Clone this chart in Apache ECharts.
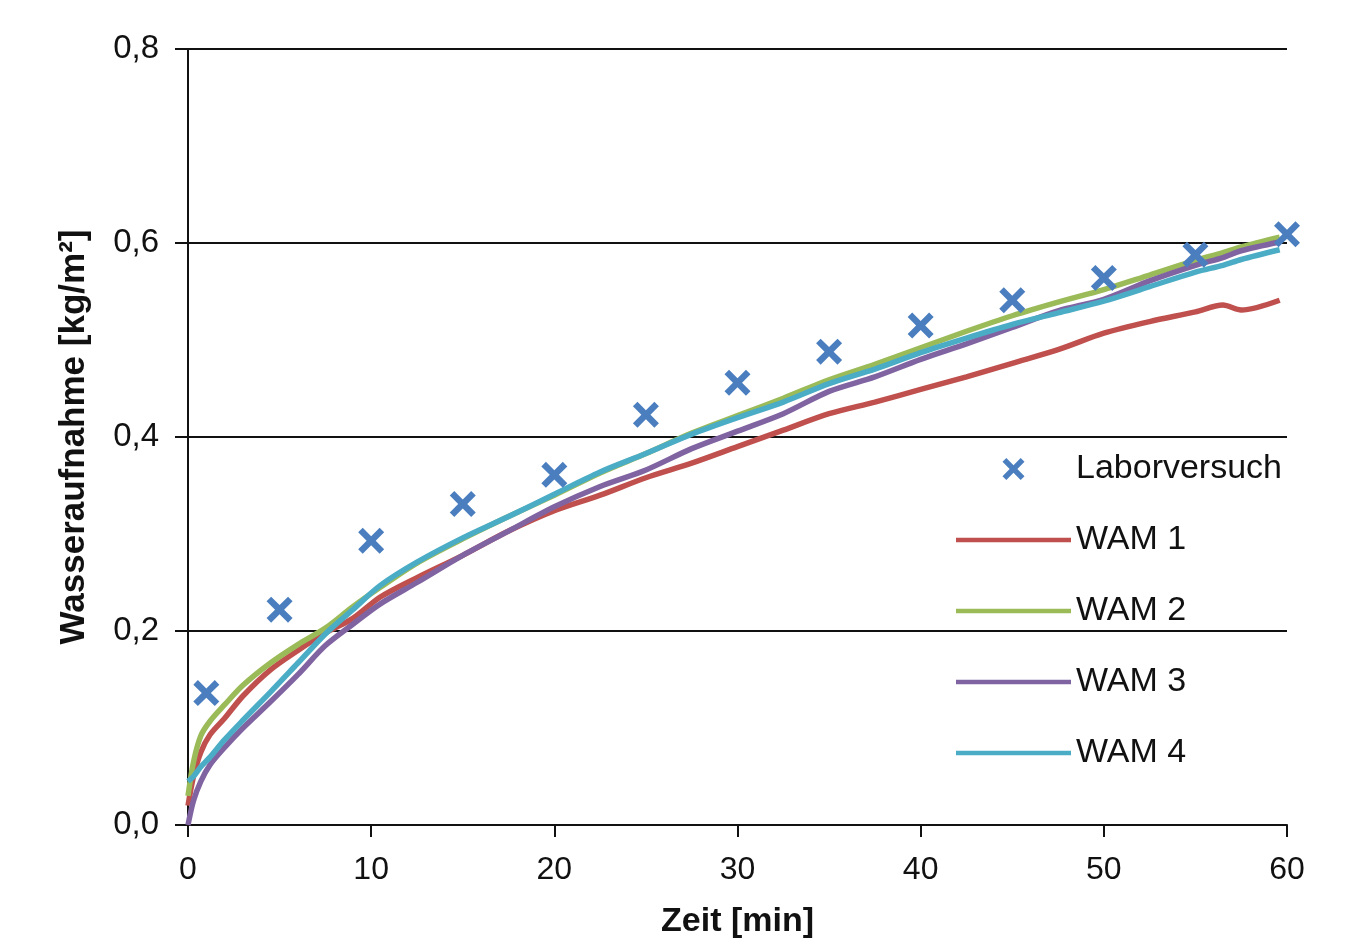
<!DOCTYPE html>
<html>
<head>
<meta charset="utf-8">
<script src="https://cdn.jsdelivr.net/npm/echarts@6/dist/echarts.min.js"></script>
<style>
  html, body { margin: 0; padding: 0; background: #fff; }
  #main { width: 1354px; height: 946px; }
</style>
</head>
<body>
<div id="main"></div>
<script>
// Laborversuch (Messpunkte)
var laborZeit = [1, 5, 10, 15, 20, 25, 30, 35, 40, 45, 50, 55, 60];
var laborWerte = [0.136, 0.222, 0.293, 0.331, 0.361, 0.423, 0.456, 0.488, 0.515, 0.541, 0.564, 0.588, 0.609];

// Simulationen WAM 1-4
var zeit = [0, 0.3, 0.7, 1.2, 2, 3, 4.5, 6, 7.5, 9, 10.5, 12.5, 15, 17.5, 20, 22.5, 25, 27.5, 30,
            32.5, 35, 37.5, 40, 42.5, 45, 47.5, 50, 52.5, 55, 56.5, 57.5, 59.6];
var wam1 = [0.02, 0.05, 0.075, 0.093, 0.11, 0.133, 0.16, 0.18, 0.198, 0.213, 0.235, 0.255, 0.278, 0.303, 0.324, 0.34, 0.358, 0.373, 0.39,
            0.407, 0.424, 0.436, 0.449, 0.462, 0.476, 0.49, 0.507, 0.519, 0.529, 0.536, 0.531, 0.541];
var wam2 = [0.03, 0.065, 0.092, 0.107, 0.124, 0.144, 0.167, 0.186, 0.203, 0.225, 0.245, 0.27, 0.295, 0.318, 0.34, 0.363, 0.383, 0.404, 0.422,
            0.44, 0.459, 0.475, 0.492, 0.509, 0.525, 0.539, 0.552, 0.567, 0.582, 0.59, 0.596, 0.606];
var wam3 = [0.0, 0.025, 0.045, 0.062, 0.08, 0.1, 0.127, 0.155, 0.185, 0.207, 0.228, 0.25, 0.278, 0.303, 0.328, 0.349, 0.366, 0.388, 0.406,
            0.424, 0.447, 0.462, 0.48, 0.496, 0.513, 0.53, 0.542, 0.561, 0.577, 0.585, 0.592, 0.601];
var wam4 = [0.045, 0.05, 0.06, 0.07, 0.088, 0.108, 0.137, 0.167, 0.197, 0.222, 0.247, 0.271, 0.296, 0.318, 0.341, 0.364, 0.383, 0.403, 0.42,
            0.436, 0.455, 0.47, 0.487, 0.502, 0.516, 0.528, 0.54, 0.555, 0.57, 0.577, 0.583, 0.593];

var xTicks = [0, 10, 20, 30, 40, 50, 60];

function pairs(xs, ys) {
    return xs.map(function (x, i) { return [x, ys[i]]; });
}

var kreuz = 'path://M0,3.5L3.5,0L10,6.5L16.5,0L20,3.5L13.5,10L20,16.5L16.5,20L10,13.5L3.5,20L0,16.5L6.5,10Z';
var strich = 'path://M0,0H100V4H0Z';

var chart = echarts.init(document.getElementById('main'));
chart.setOption({
    animation: false,
    backgroundColor: '#fff',
    grid: { left: 188, right: 67, top: 49, bottom: 121 },
    legend: {
        orient: 'vertical',
        left: 951,
        top: 447,
        itemWidth: 115,
        itemHeight: 22,
        itemGap: 37,
        textStyle: { fontFamily: 'Liberation Sans, Arial', fontSize: 34, color: '#111', lineHeight: 34 },
        data: [
            { name: 'Laborversuch', icon: kreuz },
            { name: 'WAM 1', icon: strich },
            { name: 'WAM 2', icon: strich },
            { name: 'WAM 3', icon: strich },
            { name: 'WAM 4', icon: strich }
        ]
    },
    xAxis: {
        type: 'value',
        min: 0, max: 60, interval: 10,
        name: 'Zeit [min]',
        nameLocation: 'middle',
        nameGap: 80,
        nameTextStyle: { fontFamily: 'Liberation Sans, Arial', fontWeight: 'bold', fontSize: 34, color: '#111' },
        axisLine: { lineStyle: { color: '#111', width: 2 } },
        axisTick: { show: true, inside: false, length: 12, lineStyle: { color: '#111', width: 2 } },
        axisLabel: {
            margin: 29, fontFamily: 'Liberation Sans, Arial', fontSize: 32, color: '#111',
            customValues: xTicks
        },
        splitLine: { show: false }
    },
    yAxis: {
        type: 'value',
        min: 0, max: 0.8, interval: 0.2,
        name: 'Wasseraufnahme [kg/m²]',
        nameLocation: 'middle',
        nameGap: 96,
        nameTextStyle: { fontFamily: 'Liberation Sans, Arial', fontWeight: 'bold', fontSize: 35, color: '#111' },
        axisLine: { show: true, lineStyle: { color: '#111', width: 2 } },
        axisTick: { show: true, inside: false, length: 13, lineStyle: { color: '#111', width: 2 } },
        axisLabel: {
            margin: 29, fontFamily: 'Liberation Sans, Arial', fontSize: 33, color: '#111',
            formatter: function (v) { return v.toFixed(1).replace('.', ','); }
        },
        splitLine: { show: true, lineStyle: { color: '#111', width: 2 } }
    },
    series: [
        {
            name: 'Laborversuch', type: 'scatter',
            symbol: kreuz, symbolSize: 26,
            itemStyle: { color: '#4A7EBF', opacity: 1 },
            data: pairs(laborZeit, laborWerte), z: 5
        },
        {
            name: 'WAM 1', type: 'line', symbol: 'none', smooth: 0.3,
            lineStyle: { color: '#C0504D', width: 5.5 }, itemStyle: { color: '#C0504D' },
            data: pairs(zeit, wam1)
        },
        {
            name: 'WAM 2', type: 'line', symbol: 'none', smooth: 0.3,
            lineStyle: { color: '#9BBB59', width: 5.5 }, itemStyle: { color: '#9BBB59' },
            data: pairs(zeit, wam2)
        },
        {
            name: 'WAM 3', type: 'line', symbol: 'none', smooth: 0.3,
            lineStyle: { color: '#8064A2', width: 5.5 }, itemStyle: { color: '#8064A2' },
            data: pairs(zeit, wam3)
        },
        {
            name: 'WAM 4', type: 'line', symbol: 'none', smooth: 0.3,
            lineStyle: { color: '#4BACC6', width: 5.5 }, itemStyle: { color: '#4BACC6' },
            data: pairs(zeit, wam4)
        }
    ]
});
</script>
</body>
</html>
